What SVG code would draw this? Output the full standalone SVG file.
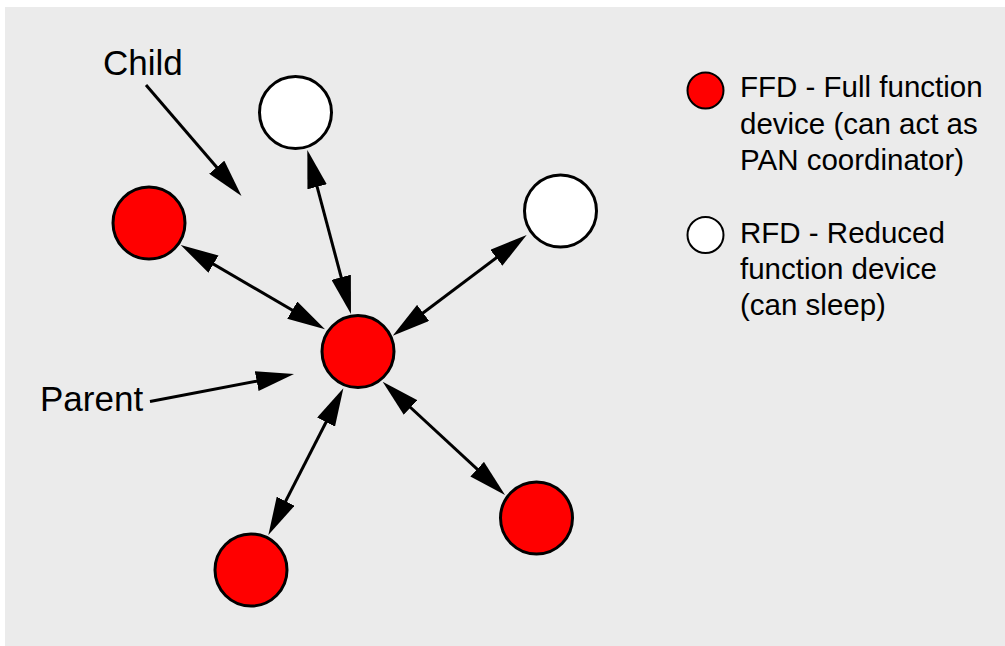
<svg xmlns="http://www.w3.org/2000/svg" width="1005" height="646" viewBox="0 0 1005 646">
<defs>
<style>
.bg{fill:#ebebeb}
.ffd{fill:#ff0000;stroke:#000;stroke-width:3}
.rfd{fill:#ffffff;stroke:#000;stroke-width:3}
.lffd{fill:#ff0000;stroke:#000;stroke-width:2}
.lrfd{fill:#ffffff;stroke:#000;stroke-width:2}
.conn{fill:none;stroke:#000;stroke-width:3}
.lbl{font-family:"Liberation Sans",Arial,Helvetica,sans-serif;font-size:35px;fill:#000}
.leg{font-family:"Liberation Sans",Arial,Helvetica,sans-serif;font-size:29.5px;fill:#000}
</style>
<marker id="ah" markerUnits="userSpaceOnUse" markerWidth="38" markerHeight="20" refX="28" refY="10" orient="auto-start-reverse" viewBox="0 0 38 20">
<path d="M0,0 L38,10 L0,20 Z" fill="#000"/>
</marker>
</defs>
<rect class="bg" x="5" y="7" width="1000" height="639"/>
<g id="connectors">
<path class="conn" d="M146,85 L235,188.4" marker-end="url(#ah)"/>
<path class="conn" d="M150,401.5 L284.2,375.9" marker-end="url(#ah)"/>
<path class="conn" d="M309.9,159.7 L348.4,304.3" marker-start="url(#ah)" marker-end="url(#ah)"/>
<path class="conn" d="M189.3,250 L316.4,324.3" marker-start="url(#ah)" marker-end="url(#ah)"/>
<path class="conn" d="M518.7,241 L400.7,329.7" marker-start="url(#ah)" marker-end="url(#ah)"/>
<path class="conn" d="M390,388.5 L497.7,488.2" marker-start="url(#ah)" marker-end="url(#ah)"/>
<path class="conn" d="M338.8,397.2 L272.9,526.1" marker-start="url(#ah)" marker-end="url(#ah)"/>
</g>
<g id="node-center"><circle class="ffd" cx="358" cy="351.5" r="36"/></g>
<g id="node-top-rfd"><circle class="rfd" cx="295.5" cy="112.5" r="36"/></g>
<g id="node-left-ffd"><circle class="ffd" cx="149" cy="223" r="36"/></g>
<g id="node-right-rfd"><circle class="rfd" cx="560.5" cy="211" r="36"/></g>
<g id="node-bottomright-ffd"><circle class="ffd" cx="536.5" cy="518" r="36"/></g>
<g id="node-bottomleft-ffd"><circle class="ffd" cx="251" cy="570" r="36"/></g>
<g id="label-child"><text class="lbl" x="103" y="74.5">Child</text></g>
<g id="label-parent"><text class="lbl" x="40" y="411">Parent</text></g>
<g id="legend-ffd">
<circle class="lffd" cx="705.5" cy="90.5" r="18"/>
<text class="leg" x="740" y="97">FFD - Full function</text>
<text class="leg" x="740" y="133.5">device (can act as</text>
<text class="leg" x="740" y="170">PAN coordinator)</text>
</g>
<g id="legend-rfd">
<circle class="lrfd" cx="705.5" cy="235" r="18"/>
<text class="leg" x="740" y="243">RFD - Reduced</text>
<text class="leg" x="740" y="279">function device</text>
<text class="leg" x="740" y="315">(can sleep)</text>
</g>
</svg>
